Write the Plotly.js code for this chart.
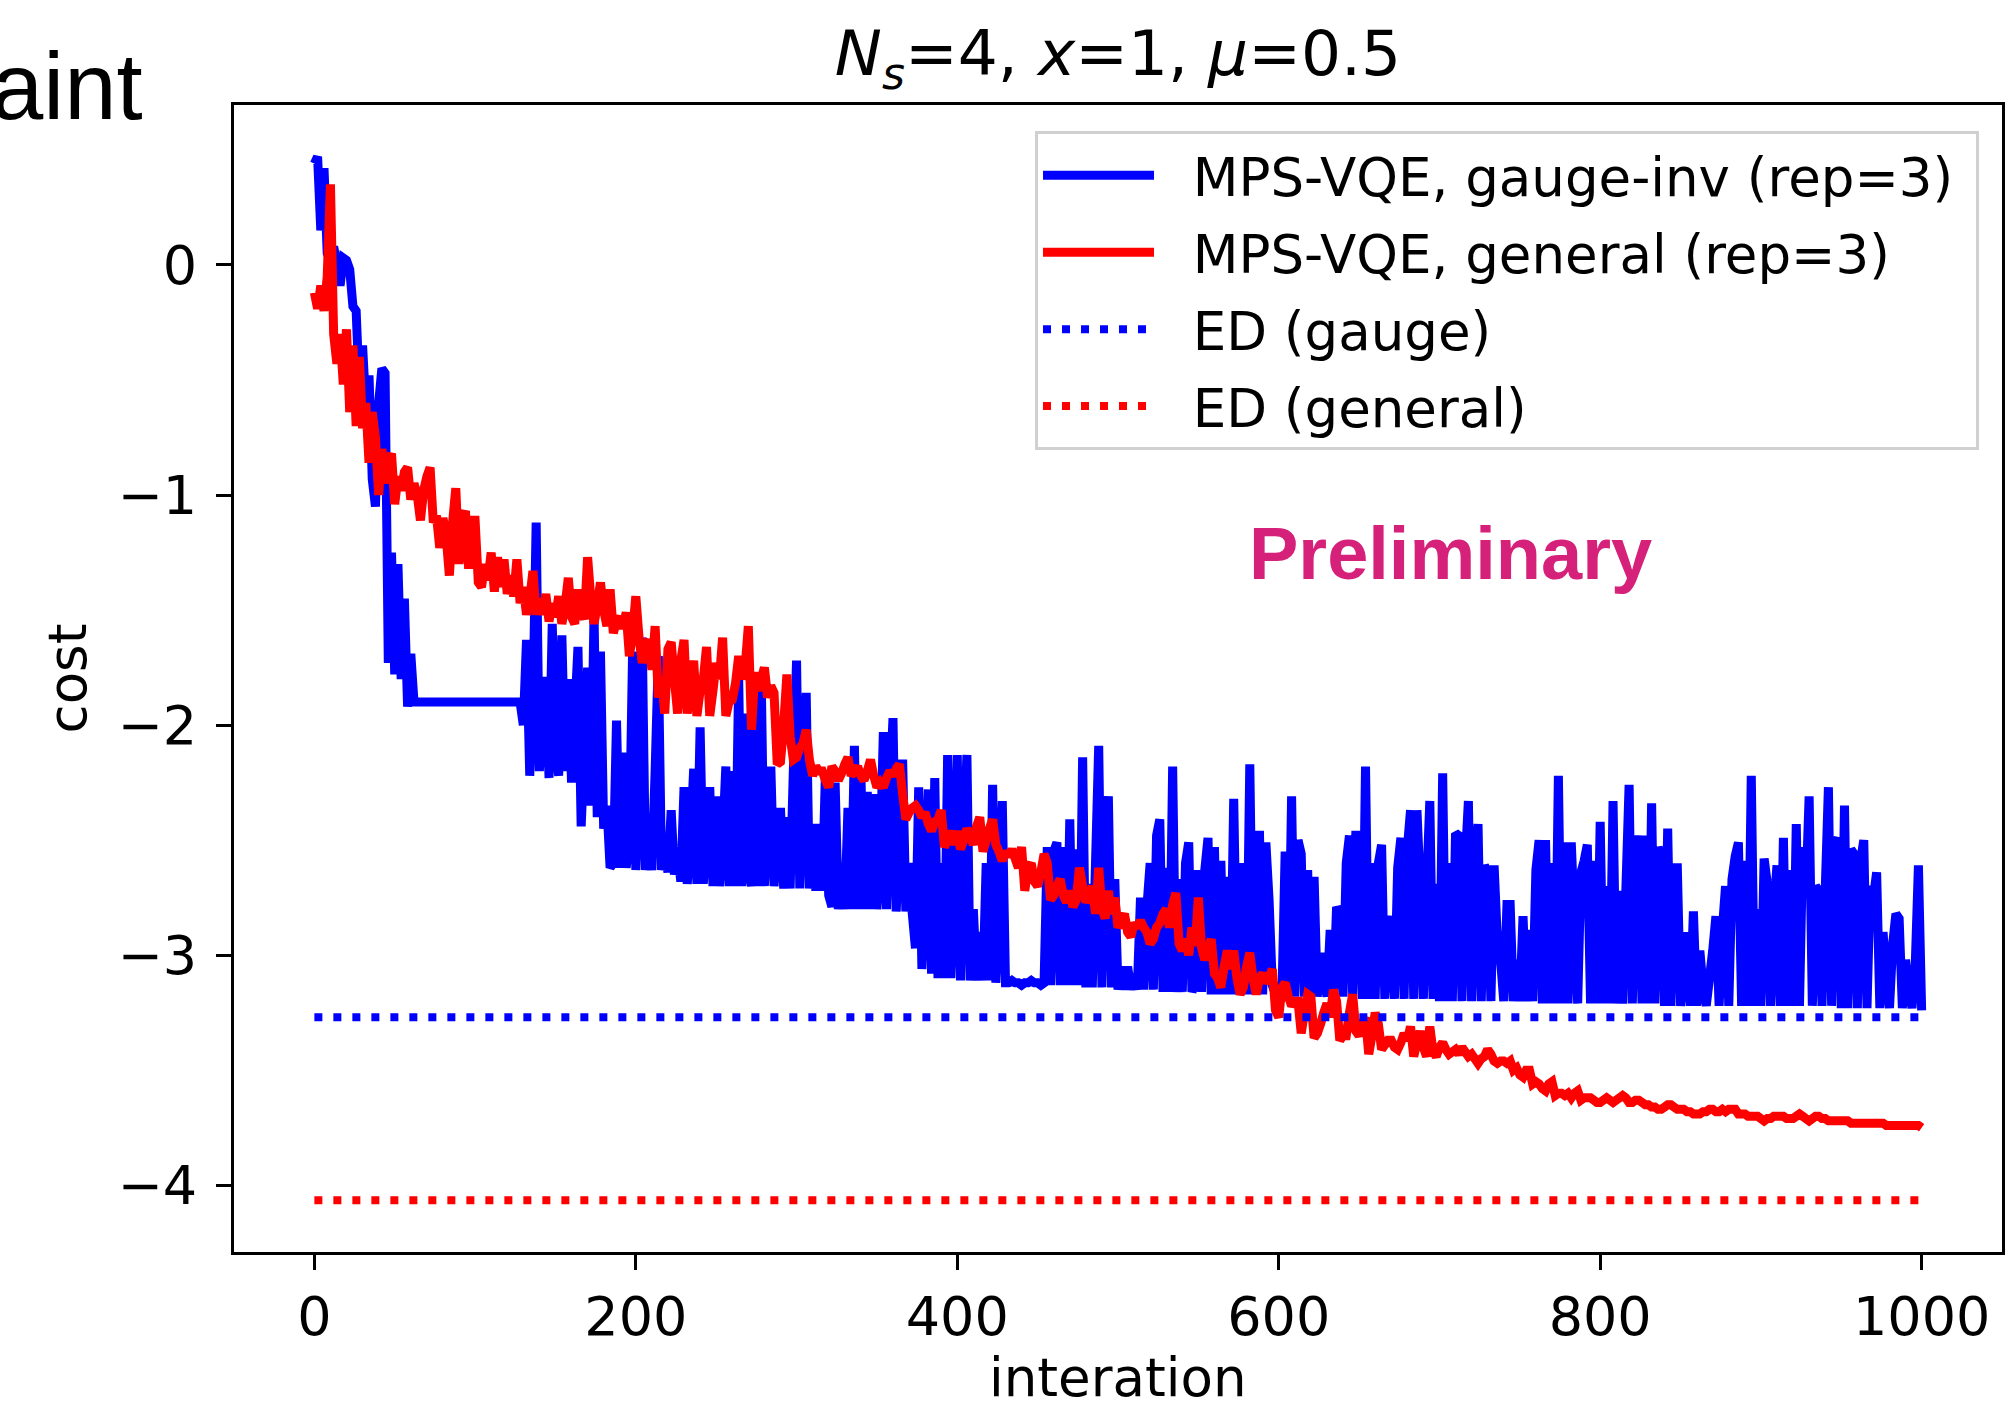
<!DOCTYPE html>
<html>
<head>
<meta charset="utf-8">
<script src="https://cdn.plot.ly/plotly-3.0.1.min.js"></script>
<style>
html,body{margin:0;padding:0;background:#ffffff;}
#chart{width:2008px;height:1406px;}
</style>
</head>
<body>
<div id="chart"></div>
<script>
// iteration numbers (every 2nd iteration)
const iterations = [
0,2,4,6,8,10,12,14,16,18,20,22,24,26,28,30,32,34,36,38,40,42,44,46,48,50,52,54,56,58,60,62,64,66,68,70,72,74,76,78,80,82,84,86,88,90,92,94,96,98,
100,102,104,106,108,110,112,114,116,118,120,122,124,126,128,130,132,134,136,138,140,142,144,146,148,150,152,154,156,158,160,162,164,166,168,170,172,174,176,178,180,182,184,186,188,190,192,194,196,198,
200,202,204,206,208,210,212,214,216,218,220,222,224,226,228,230,232,234,236,238,240,242,244,246,248,250,252,254,256,258,260,262,264,266,268,270,272,274,276,278,280,282,284,286,288,290,292,294,296,298,
300,302,304,306,308,310,312,314,316,318,320,322,324,326,328,330,332,334,336,338,340,342,344,346,348,350,352,354,356,358,360,362,364,366,368,370,372,374,376,378,380,382,384,386,388,390,392,394,396,398,
400,402,404,406,408,410,412,414,416,418,420,422,424,426,428,430,432,434,436,438,440,442,444,446,448,450,452,454,456,458,460,462,464,466,468,470,472,474,476,478,480,482,484,486,488,490,492,494,496,498,
500,502,504,506,508,510,512,514,516,518,520,522,524,526,528,530,532,534,536,538,540,542,544,546,548,550,552,554,556,558,560,562,564,566,568,570,572,574,576,578,580,582,584,586,588,590,592,594,596,598,
600,602,604,606,608,610,612,614,616,618,620,622,624,626,628,630,632,634,636,638,640,642,644,646,648,650,652,654,656,658,660,662,664,666,668,670,672,674,676,678,680,682,684,686,688,690,692,694,696,698,
700,702,704,706,708,710,712,714,716,718,720,722,724,726,728,730,732,734,736,738,740,742,744,746,748,750,752,754,756,758,760,762,764,766,768,770,772,774,776,778,780,782,784,786,788,790,792,794,796,798,
800,802,804,806,808,810,812,814,816,818,820,822,824,826,828,830,832,834,836,838,840,842,844,846,848,850,852,854,856,858,860,862,864,866,868,870,872,874,876,878,880,882,884,886,888,890,892,894,896,898,
900,902,904,906,908,910,912,914,916,918,920,922,924,926,928,930,932,934,936,938,940,942,944,946,948,950,952,954,956,958,960,962,964,966,968,970,972,974,976,978,980,982,984,986,988,990,992,994,996,998,
1000];

// MPS-VQE, gauge-inv (rep=3)
const costGaugeInv = [
0.44,0.47,0.15,0.42,0.05,0.02,0.08,0.0,-0.09,0.03,
0.02,-0.02,-0.18,-0.2,-0.55,-0.35,-0.62,-0.48,-0.93,-1.05,
-0.6,-0.45,-0.47,-1.73,-1.25,-1.78,-1.3,-1.8,-1.45,-1.92,
-1.69,-1.9,-1.9,-1.9,-1.9,-1.9,-1.9,-1.9,-1.9,-1.9,
-1.9,-1.9,-1.9,-1.9,-1.9,-1.9,-1.9,-1.9,-1.9,-1.9,
-1.9,-1.9,-1.9,-1.9,-1.9,-1.9,-1.9,-1.9,-1.9,-1.9,
-1.9,-1.9,-1.9,-1.9,-1.9,-2.0,-1.63,-2.22,-1.9,-1.12,
-2.2,-1.95,-1.79,-2.23,-1.56,-2.1,-2.22,-1.61,-2.2,-1.8,
-2.25,-1.95,-1.66,-2.44,-2.1,-1.75,-2.35,-1.52,-2.4,-1.68,
-2.45,-2.35,-2.62,-2.6,-1.98,-2.62,-2.12,-2.62,-2.5,-1.68,
-2.63,-2.3,-1.62,-2.63,-2.45,-2.63,-2.2,-1.7,-2.63,-2.55,
-2.64,-2.37,-2.65,-2.55,-2.68,-2.27,-2.69,-2.5,-2.19,-2.69,
-2.01,-2.69,-2.45,-2.27,-2.7,-2.31,-2.7,-2.5,-2.18,-2.7,
-2.2,-2.7,-1.8,-2.7,-1.95,-2.6,-2.7,-1.78,-2.7,-1.79,
-2.7,-2.4,-2.18,-2.7,-2.5,-2.36,-2.71,-2.4,-2.71,-2.2,
-1.72,-2.71,-2.3,-1.86,-2.71,-2.43,-2.72,-2.43,-2.72,-2.2,
-2.74,-2.79,-2.25,-2.8,-2.6,-2.8,-2.36,-2.8,-2.09,-2.8,
-2.2,-2.8,-2.29,-2.8,-2.3,-2.8,-2.6,-2.03,-2.8,-2.3,
-1.97,-2.81,-2.5,-2.15,-2.81,-2.6,-2.82,-2.97,-2.27,-3.06,
-2.7,-2.28,-3.08,-2.23,-3.1,-2.6,-3.1,-2.13,-3.1,-2.7,
-2.13,-3.11,-2.5,-2.13,-3.11,-2.8,-3.11,-2.9,-3.11,-2.6,
-3.11,-2.26,-3.12,-2.8,-2.33,-3.12,-3.12,-3.11,-3.12,-3.12,
-3.13,-3.12,-3.12,-3.11,-3.12,-3.12,-3.13,-3.12,-2.53,-3.13,
-2.55,-2.51,-3.13,-2.53,-3.13,-2.41,-3.13,-2.54,-3.13,-2.14,
-3.14,-2.69,-3.14,-2.6,-2.09,-3.14,-2.44,-2.31,-3.14,-2.67,
-3.15,-3.05,-3.15,-3.05,-3.15,-3.08,-3.15,-2.75,-3.15,-2.79,
-2.6,-3.15,-2.48,-2.41,-3.16,-2.62,-3.16,-2.18,-3.16,-2.67,
-3.16,-2.6,-2.51,-3.16,-3.12,-2.63,-3.16,-2.63,-2.49,-3.17,
-2.53,-3.17,-2.59,-3.17,-2.66,-3.17,-2.32,-3.17,-3.1,-2.6,
-3.17,-2.17,-3.17,-2.67,-2.46,-3.17,-2.51,-2.76,-3.13,-3.17,
-3.12,-3.18,-2.55,-3.18,-2.31,-3.18,-2.5,-2.56,-3.18,-2.63,
-3.18,-2.66,-3.18,-2.99,-3.09,-3.18,-2.89,-3.18,-2.79,-2.82,
-3.18,-2.6,-2.48,-3.18,-2.46,-2.63,-3.19,-2.18,-3.19,-2.6,
-3.19,-2.6,-2.52,-3.19,-2.9,-2.83,-3.19,-2.62,-2.49,-3.19,
-2.54,-2.37,-3.19,-2.37,-2.7,-3.19,-2.7,-2.33,-3.19,-2.69,
-3.2,-2.21,-3.2,-2.6,-3.2,-2.47,-2.48,-3.2,-2.6,-2.33,
-3.2,-2.64,-2.43,-3.2,-2.61,-2.64,-3.2,-2.61,-2.93,-3.02,
-3.2,-2.78,-2.78,-3.2,-3.02,-3.2,-2.83,-3.2,-2.89,-3.2,
-2.63,-2.5,-3.21,-2.5,-3.21,-2.6,-3.21,-2.22,-3.21,-2.51,
-3.21,-2.51,-2.85,-3.21,-2.64,-2.59,-2.52,-3.21,-2.59,-3.21,
-2.42,-3.21,-2.7,-3.21,-2.33,-3.21,-2.72,-3.21,-2.71,-2.26,
-3.21,-2.6,-2.48,-3.21,-2.48,-3.21,-2.34,-3.21,-2.53,-2.58,
-3.22,-2.45,-3.22,-2.62,-2.62,-3.22,-3.05,-2.9,-3.22,-2.81,
-3.22,-2.98,-3.14,-3.22,-3.1,-2.98,-2.83,-3.22,-2.89,-2.7,
-3.22,-2.67,-2.57,-2.51,-3.22,-2.59,-3.22,-2.22,-3.22,-2.8,
-3.22,-2.58,-2.69,-3.22,-2.8,-2.61,-3.22,-2.49,-3.22,-2.63,
-3.22,-2.43,-3.22,-2.53,-2.73,-2.31,-3.22,-2.7,-2.72,-3.22,
-2.72,-2.27,-3.22,-2.52,-2.49,-3.23,-2.35,-3.23,-2.54,-2.56,
-3.23,-2.59,-2.5,-3.23,-2.7,-2.75,-2.64,-3.23,-2.9,-3.1,
-3.23,-2.95,-2.82,-2.84,-3.23,-3.02,-3.15,-3.23,-3.05,-2.61,
-3.24];

// MPS-VQE, general (rep=3)
const costGeneral = [
-0.12,-0.19,-0.09,-0.2,-0.05,0.35,-0.3,-0.43,-0.3,-0.52,
-0.28,-0.64,-0.35,-0.7,-0.4,-0.71,-0.6,-0.86,-0.64,-0.75,
-1.0,-0.8,-0.95,-0.85,-0.82,-1.04,-0.92,-0.98,-0.9,-0.88,
-1.02,-0.95,-1.0,-1.11,-0.98,-0.92,-0.88,-1.12,-1.09,-1.23,
-1.1,-1.18,-1.35,-1.12,-0.97,-1.3,-1.1,-1.07,-1.32,-1.11,
-1.11,-1.38,-1.4,-1.3,-1.37,-1.25,-1.42,-1.27,-1.4,-1.28,
-1.43,-1.35,-1.44,-1.28,-1.47,-1.4,-1.52,-1.45,-1.33,-1.52,
-1.45,-1.52,-1.43,-1.55,-1.47,-1.53,-1.44,-1.56,-1.48,-1.36,
-1.53,-1.56,-1.41,-1.5,-1.54,-1.27,-1.45,-1.56,-1.48,-1.38,
-1.5,-1.57,-1.41,-1.6,-1.55,-1.53,-1.58,-1.51,-1.7,-1.6,
-1.44,-1.62,-1.73,-1.65,-1.63,-1.76,-1.57,-1.88,-1.8,-1.95,
-1.67,-1.64,-1.8,-1.95,-1.72,-1.63,-1.95,-1.8,-1.72,-1.96,
-1.85,-1.8,-1.66,-1.96,-1.85,-1.73,-1.8,-1.62,-1.96,-1.9,
-1.89,-1.82,-1.7,-1.8,-1.75,-1.57,-2.02,-1.77,-1.85,-1.8,
-1.75,-1.88,-1.83,-1.86,-2.17,-2.16,-2.0,-1.78,-2.05,-2.15,
-2.14,-2.1,-2.08,-2.02,-2.15,-2.22,-2.18,-2.2,-2.2,-2.24,
-2.27,-2.18,-2.2,-2.24,-2.21,-2.17,-2.14,-2.22,-2.2,-2.18,
-2.22,-2.24,-2.2,-2.15,-2.22,-2.27,-2.25,-2.27,-2.23,-2.2,
-2.22,-2.19,-2.17,-2.3,-2.41,-2.38,-2.36,-2.35,-2.37,-2.4,
-2.38,-2.43,-2.46,-2.42,-2.41,-2.37,-2.53,-2.5,-2.46,-2.52,
-2.46,-2.54,-2.5,-2.45,-2.48,-2.52,-2.44,-2.4,-2.55,-2.5,
-2.45,-2.41,-2.52,-2.55,-2.59,-2.55,-2.57,-2.54,-2.58,-2.62,
-2.53,-2.72,-2.62,-2.6,-2.68,-2.7,-2.64,-2.56,-2.6,-2.76,
-2.74,-2.7,-2.67,-2.74,-2.77,-2.72,-2.79,-2.76,-2.62,-2.7,
-2.77,-2.74,-2.7,-2.82,-2.62,-2.8,-2.84,-2.72,-2.82,-2.75,
-2.88,-2.85,-2.82,-2.9,-2.92,-2.86,-2.88,-2.85,-2.88,-2.9,
-2.95,-2.93,-2.88,-2.86,-2.82,-2.8,-2.88,-2.78,-2.73,-2.95,
-2.98,-2.93,-3.0,-2.88,-2.96,-2.75,-2.97,-3.02,-2.98,-2.93,
-3.08,-3.1,-3.14,-3.05,-2.98,-3.06,-2.98,-3.1,-3.17,-3.14,
-3.05,-2.99,-3.1,-3.17,-3.1,-3.08,-3.12,-3.1,-3.06,-3.24,
-3.27,-3.14,-3.12,-3.18,-3.22,-3.2,-3.2,-3.34,-3.25,-3.17,
-3.18,-3.36,-3.34,-3.3,-3.25,-3.21,-3.27,-3.15,-3.2,-3.37,
-3.35,-3.35,-3.25,-3.17,-3.33,-3.35,-3.3,-3.27,-3.43,-3.35,
-3.25,-3.3,-3.41,-3.39,-3.37,-3.37,-3.4,-3.41,-3.38,-3.34,
-3.37,-3.31,-3.44,-3.38,-3.33,-3.4,-3.44,-3.31,-3.42,-3.44,
-3.4,-3.38,-3.41,-3.43,-3.42,-3.41,-3.43,-3.4,-3.42,-3.44,
-3.43,-3.45,-3.47,-3.45,-3.44,-3.41,-3.43,-3.46,-3.47,-3.46,
-3.46,-3.47,-3.46,-3.5,-3.49,-3.52,-3.53,-3.5,-3.5,-3.56,
-3.55,-3.56,-3.58,-3.59,-3.56,-3.55,-3.61,-3.6,-3.6,-3.61,
-3.6,-3.62,-3.6,-3.59,-3.63,-3.62,-3.62,-3.62,-3.63,-3.64,
-3.64,-3.63,-3.62,-3.63,-3.64,-3.63,-3.62,-3.61,-3.62,-3.64,
-3.64,-3.63,-3.63,-3.64,-3.65,-3.65,-3.66,-3.66,-3.67,-3.67,
-3.66,-3.65,-3.65,-3.66,-3.67,-3.67,-3.67,-3.68,-3.68,-3.69,
-3.69,-3.69,-3.68,-3.68,-3.67,-3.67,-3.68,-3.68,-3.67,-3.68,
-3.67,-3.67,-3.67,-3.69,-3.69,-3.69,-3.7,-3.7,-3.7,-3.7,
-3.71,-3.72,-3.71,-3.71,-3.7,-3.7,-3.7,-3.7,-3.71,-3.71,
-3.71,-3.7,-3.69,-3.7,-3.71,-3.72,-3.71,-3.7,-3.7,-3.71,
-3.71,-3.72,-3.72,-3.72,-3.72,-3.72,-3.72,-3.72,-3.73,-3.73,
-3.73,-3.73,-3.73,-3.73,-3.73,-3.73,-3.73,-3.73,-3.73,-3.74,
-3.74,-3.74,-3.74,-3.74,-3.74,-3.74,-3.74,-3.74,-3.74,-3.74,
-3.75];

// exact diagonalisation reference energies
const edIterations = [0, 1000];
const edGauge = [-3.27, -3.27];
const edGeneral = [-4.065, -4.065];

const seriesNames = ['MPS-VQE, gauge-inv (rep=3)', 'MPS-VQE, general (rep=3)', 'ED (gauge)', 'ED (general)'];
const xTickVals = [0, 200, 400, 600, 800, 1000];
const yTickVals = [-4, -3, -2, -1, 0];
const xLabel = 'interation';
const yLabel = 'cost';

if (costGaugeInv.length !== iterations.length || costGeneral.length !== iterations.length) {
  console.error('length mismatch', iterations.length, costGaugeInv.length, costGeneral.length);
}

const FONT = 'DejaVu Sans, Verdana, sans-serif';
const LW = 9;
const DOT = '8px,11px';
const NB = '\u00a0';
const legendLabel = (s) => NB + NB + s + NB;

const traces = [
  {x: iterations, y: costGaugeInv, name: legendLabel(seriesNames[0]), legendgroup: 'a', mode: 'lines',
   line: {color: '#0000ff', width: LW, simplify: false}},
  {x: iterations, y: costGeneral, name: legendLabel(seriesNames[1]), legendgroup: 'b', mode: 'lines',
   line: {color: '#ff0000', width: LW, simplify: false}},
  {x: edIterations, y: edGauge, name: legendLabel(seriesNames[2]), legendgroup: 'c', mode: 'lines',
   line: {color: '#0000ff', width: 8, dash: DOT}},
  {x: edIterations, y: edGeneral, name: legendLabel(seriesNames[3]), legendgroup: 'd', mode: 'lines',
   line: {color: '#ff0000', width: 8, dash: DOT}}
];

const axisCommon = {
  showgrid: false, zeroline: false, showline: true, linecolor: '#000', linewidth: 3, mirror: true,
  ticks: 'outside', ticklen: 15, tickwidth: 3, tickcolor: '#000',
  tickfont: {family: FONT, size: 54, color: '#000'}
};

const layout = {
  width: 2008, height: 1406,
  margin: {l: 234, r: 6, t: 105, b: 154, pad: 0},
  paper_bgcolor: '#fff', plot_bgcolor: '#fff',
  font: {family: FONT, color: '#000'},
  showlegend: true,
  title: {
    text: '<i>N</i><sub><i>s</i></sub>=4, <i>x</i>=1, <i>μ</i>=0.5',
    font: {family: FONT, size: 63, color: '#000'},
    x: 0.5, xref: 'paper', xanchor: 'center',
    y: 0.962, yref: 'container', yanchor: 'middle'
  },
  xaxis: Object.assign({}, axisCommon, {
    range: [-50, 1050], tickvals: xTickVals, ticktext: xTickVals.map(String)
  }),
  yaxis: Object.assign({}, axisCommon, {
    range: [-4.29, 0.695], tickvals: yTickVals, ticklabelstandoff: 8,
    automargin: 'bottom',
    title: {text: yLabel, font: {family: FONT, size: 53, color: '#000'}, standoff: 15}
  }),
  legend: {
    x: 0.987, xanchor: 'right', y: 0.977, yanchor: 'top',
    bgcolor: '#ffffff', bordercolor: '#d0d0d0', borderwidth: 3,
    font: {family: FONT, size: 53, color: '#000'},
    itemwidth: 111, tracegroupgap: 5, traceorder: 'grouped'
  },
  annotations: [
    // x-axis label (placed as paper text so it can sit as low as in the original figure)
    {text: xLabel, xref: 'paper', yref: 'paper', x: 0.5, y: -0.1092,
     xanchor: 'center', yanchor: 'middle', showarrow: false,
     font: {family: FONT, size: 53, color: '#000'}},
    {text: '<b>Preliminary</b>', xref: 'paper', yref: 'paper', x: 0.6878, y: 0.6094,
     xanchor: 'center', yanchor: 'middle', showarrow: false,
     font: {family: 'Liberation Sans, Arial, sans-serif', size: 74, color: '#d6217a'}},
    {text: 'aint', xref: 'paper', yref: 'paper', x: -0.0503, y: 1.0157,
     xanchor: 'right', yanchor: 'middle', showarrow: false,
     font: {family: 'Liberation Sans, Arial, sans-serif', size: 94, color: '#000'}}
  ],
  hovermode: false
};

Plotly.newPlot('chart', traces, layout, {staticPlot: true, displayModeBar: false});
</script>
</body>
</html>
